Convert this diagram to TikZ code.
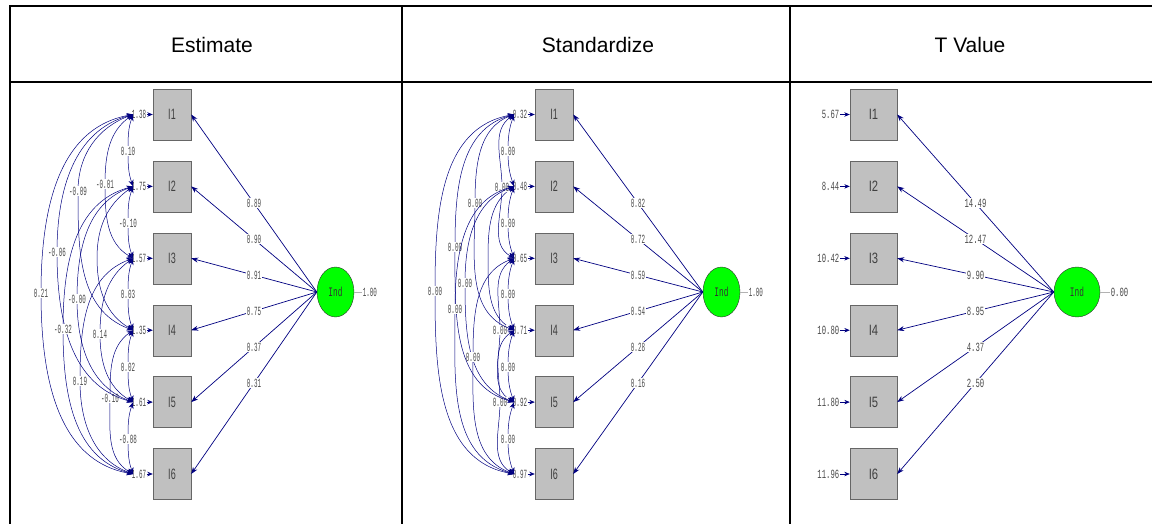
\documentclass[tikz,border=0pt]{standalone}
\usepackage{fontspec}
\setmainfont{Liberation Sans}
\newfontfamily\numfam[FakeStretch=0.47]{Liberation Mono}
\newfontfamily\numfamT[FakeStretch=0.58]{Liberation Mono}
\newfontfamily\boxfam[FakeStretch=0.6]{Liberation Sans}
\newfontfamily\boxfamT[FakeStretch=0.75]{Liberation Sans}
\newfontfamily\indfam[FakeStretch=0.6]{Liberation Mono}
\usetikzlibrary{arrows.meta,shapes.geometric}
\definecolor{navy}{HTML}{000080}
\definecolor{boxgray}{HTML}{C0C0C0}
\definecolor{latgreen}{HTML}{00FF00}
\definecolor{numgray}{HTML}{4A4A4A}
\tikzset{
  tbl/.style={line width=2.5pt, black},
  hdr/.style={font=\fontsize{21}{21}\selectfont, inner sep=0},
  obs/.style={draw=black!60, fill=boxgray, minimum width=38pt, minimum height=51pt, inner sep=0, font=\fontsize{15}{15}\selectfont\boxfam, text=black!75},
  obsT/.style={obs, minimum width=47pt, font=\fontsize{15}{15}\selectfont\boxfamT},
  lat/.style={ellipse, draw=black!80, fill=latgreen, minimum width=37pt, minimum height=50pt, inner sep=0, font=\fontsize{13}{13}\selectfont\indfam, text=black!80},
  latT/.style={lat, minimum width=46pt},
  num/.style={font=\fontsize{12.5}{12.5}\selectfont\numfam, text=numgray, inner sep=0.6pt, fill=white},
  numT/.style={num, font=\fontsize{12.5}{12.5}\selectfont\numfamT},
  load/.style={draw=navy, line width=0.7pt, -{Stealth[length=7pt,width=5pt]}},
  varr/.style={draw=navy, line width=0.7pt, -{Stealth[length=5.5pt,width=4.5pt]}},
  cov/.style={draw=navy, line width=0.5pt, {Stealth[length=6.5pt,width=5pt]}-{Stealth[length=6.5pt,width=5pt]}},
  varline/.style={draw=black!30, line width=1pt},
}
\begin{document}
\begin{tikzpicture}[x=1pt,y=-1pt]
\useasboundingbox (0,0) rectangle (1152,524);
% table
\draw[tbl] (10,524) -- (10,6) -- (1152,6);
\draw[tbl] (10,82) -- (1152,82);
\draw[tbl] (402,6) -- (402,524);
\draw[tbl] (790,6) -- (790,524);
\node[hdr] (h1) at (212,45) {Estimate};
\node[hdr] (h2) at (598,45) {Standardize};
\node[hdr] (h3) at (970,45) {T Value};

% ================= Estimate panel
\foreach \k/\y/\v in {1/114.5/1.38, 2/186.4/1.75, 3/258.3/1.57, 4/330.2/1.35, 5/402.1/1.61, 6/474/1.67} {
  \node[obs] (Eb\k) at (172,\y) {I\k};
  \node[num] (Ev\k) at (139,\y) {\v};
  \draw[varr] (Ev\k.east) -- (Eb\k.west);
}
\node[lat] (Eind) at (335.5,292) {Ind};
\node[num,anchor=west] (Eiv) at (362,292) {1.00};
\draw[varline] (Eind.east) -- (Eiv.west);
\foreach \k/\l in {1/0.89, 2/0.90, 3/0.91, 4/0.75, 5/0.37, 6/0.31}
  \draw[load] (Eind.west) -- node[num]{\l} (Eb\k.east);
% covariances
\coordinate (E24) at (97,258);
\draw[cov] ([xshift=2pt]Ev2.west) to[out=215,in=90] (E24) to[out=-90,in=150] ([xshift=2pt]Ev4.west);
\foreach \i/\j/\lx/\ly/\t/\o/\n in {
  1/2/128/151/0.10/250/110, 2/3/128/223/-0.10/250/110, 3/4/128/294/0.03/250/110,
  4/5/128/367/0.02/250/110, 5/6/128/439/-0.08/250/110,
  1/3/105/184/-0.01/215/150, 3/5/100/334/0.14/215/150, 4/6/110/398/-0.10/215/150,
  1/4/78/191/-0.09/200/160, 2/5/77/299/-0.00/200/160, 3/6/80/381/0.19/200/160,
  1/5/57/252/-0.06/195/165, 2/6/63/329/-0.32/195/165, 1/6/41/293/0.21/190/170} {
  \coordinate (E\i\j) at (\lx,\ly);
  \draw[cov] ([xshift=2pt]Ev\i.west) to[out=\o,in=90] (E\i\j) to[out=-90,in=\n] ([xshift=2pt]Ev\j.west);
  \node[num] (EL\i\j) at (E\i\j) {\t};
}

% ================= Standardize panel
\foreach \k/\y/\v in {1/114.5/0.32, 2/186.4/0.48, 3/258.3/0.65, 4/330.2/0.71, 5/402.1/0.92, 6/474/0.97} {
  \node[obs] (Sb\k) at (554,\y) {I\k};
  \node[num] (Sv\k) at (520,\y) {\v};
  \draw[varr] (Sv\k.east) -- (Sb\k.west);
}
\node[lat] (Sind) at (721.5,292) {Ind};
\node[num,anchor=west] (Siv) at (748,292) {1.00};
\draw[varline] (Sind.east) -- (Siv.west);
\foreach \k/\l in {1/0.82, 2/0.72, 3/0.59, 4/0.54, 5/0.28, 6/0.16}
  \draw[load] (Sind.west) -- node[num]{\l} (Sb\k.east);
\coordinate (S24) at (488,258);
\draw[cov] ([xshift=2pt]Sv2.west) to[out=215,in=90] (S24) to[out=-90,in=150] ([xshift=2pt]Sv4.west);
\foreach \i/\j/\lx/\ly/\o/\n in {
  1/2/508/151/250/110, 2/3/508/223/250/110, 3/4/508/294/250/110,
  4/5/508/367/250/110, 5/6/508/439/250/110,
  1/3/502/187/215/150, 3/5/500/330/215/150, 4/6/500/402/215/150,
  1/4/475/203/200/160, 2/5/465/283/200/160, 3/6/473/357/200/160,
  1/5/455/247/195/165, 2/6/455/309/195/165, 1/6/435/291/190/170} {
  \coordinate (S\i\j) at (\lx,\ly);
  \draw[cov] ([xshift=2pt]Sv\i.west) to[out=\o,in=90] (S\i\j) to[out=-90,in=\n] ([xshift=2pt]Sv\j.west);
  \node[num] (SL\i\j) at (S\i\j) {0.00};
}

% ================= T value panel
\foreach \k/\y/\v in {1/114.5/5.67, 2/186.4/8.44, 3/258.3/10.42, 4/330.2/10.80, 5/402.1/11.80, 6/474/11.96} {
  \node[obsT] (Tb\k) at (873.5,\y) {I\k};
  \node[numT,anchor=east] (Tv\k) at (840,\y) {\v};
  \draw[varr] (Tv\k.east) -- (Tb\k.west);
}
\node[latT] (Tind) at (1077,292) {Ind};
\node[numT,anchor=west] (Tiv) at (1110,292) {0.00};
\draw[varline] (Tind.east) -- (Tiv.west);
\foreach \k/\l in {1/14.49, 2/12.47, 3/9.90, 4/8.95, 5/4.37, 6/2.50}
  \draw[load] (Tind.west) -- node[numT]{\l} (Tb\k.east);
\end{tikzpicture}
\end{document}
